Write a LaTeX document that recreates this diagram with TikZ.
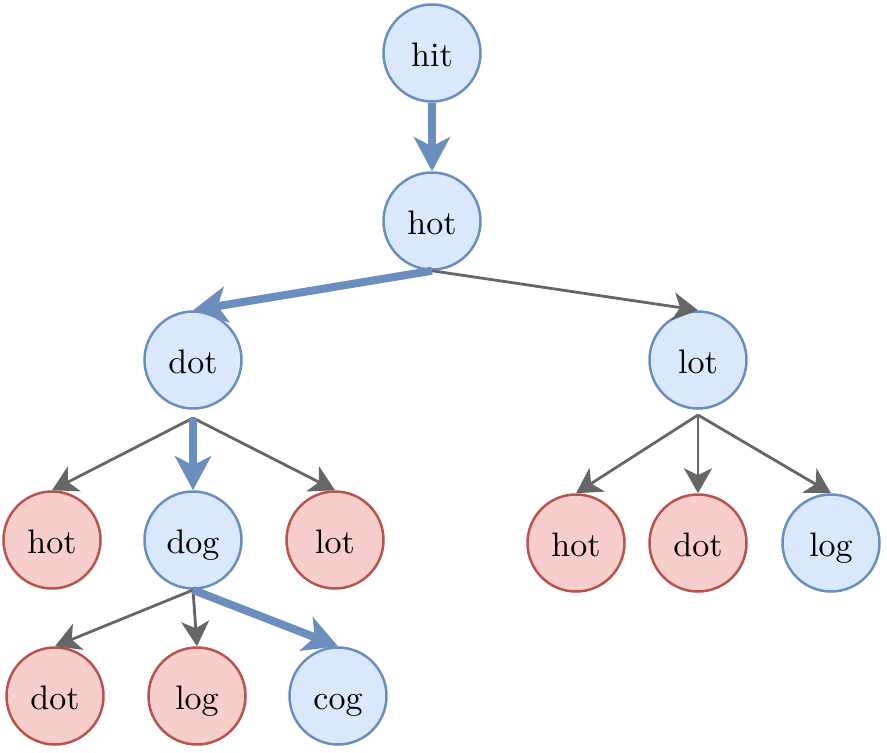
\documentclass[tikz,border=0pt]{standalone}
\usepackage{fontspec}
\setmainfont{lmroman10-regular.otf}
\usetikzlibrary{arrows.meta}
\definecolor{bfill}{HTML}{DAE8FC}
\definecolor{bline}{HTML}{6C8EBF}
\definecolor{rfill}{HTML}{F8CECC}
\definecolor{rline}{HTML}{B85450}
\definecolor{gline}{HTML}{666666}
\begin{document}
\begin{tikzpicture}[x=1pt,y=-1pt,
  bnode/.style={circle, draw=bline, fill=bfill, line width=2.5pt, minimum size=97pt, inner sep=0pt,
    font=\fontsize{34}{34}\selectfont, text height=26pt, text depth=0pt},
  rnode/.style={bnode, draw=rline, fill=rfill},
  garrow/.style={draw=gline, line width=2.8pt, -{Stealth[length=25pt,width=28pt,inset=7pt]}},
  barrow/.style={draw=bline, line width=8pt, -{Stealth[length=34pt,width=36pt,inset=9pt]}}]
\useasboundingbox (0,0) rectangle (887,753);

\node[bnode] (hit) at (432,53) {hit};
\node[bnode] (hot) at (432,221) {hot};
\node[bnode] (dot) at (193,360) {dot};
\node[bnode] (lot) at (698,360) {lot};
\node[rnode] (hotA) at (52,540) {hot};
\node[bnode] (dog) at (193,540) {dog};
\node[rnode] (lotA) at (335,540) {lot};
\node[rnode] (hotB) at (576,543) {hot};
\node[rnode] (dotB) at (698,543) {dot};
\node[bnode] (logB) at (831,543) {log};
\node[rnode] (dotC) at (55,696) {dot};
\node[rnode] (logC) at (197,696) {log};
\node[bnode] (cog) at (338,696) {cog};

\coordinate (dotS) at (193,418);
\coordinate (lotS) at (698,415);
\coordinate (dogS) at (193,590);

\draw[barrow] (hit.south) -- (hot.north);
\draw[garrow] (hot.south) -- (lot.north);
\draw[barrow] (hot.south) -- (dot.north);
\draw[garrow] (dotS) -- (hotA.north);
\draw[garrow] (dotS) -- (lotA.north);
\draw[barrow] (dotS) -- (dog.north);
\draw[garrow] (lotS) -- (hotB.north);
\draw[garrow] (lotS) -- (dotB.north);
\draw[garrow] (lotS) -- (logB.north);
\draw[garrow] (dogS) -- (dotC.north);
\draw[garrow] (dogS) -- (logC.north);
\draw[barrow] (dogS) -- (cog.north);
\end{tikzpicture}
\end{document}
